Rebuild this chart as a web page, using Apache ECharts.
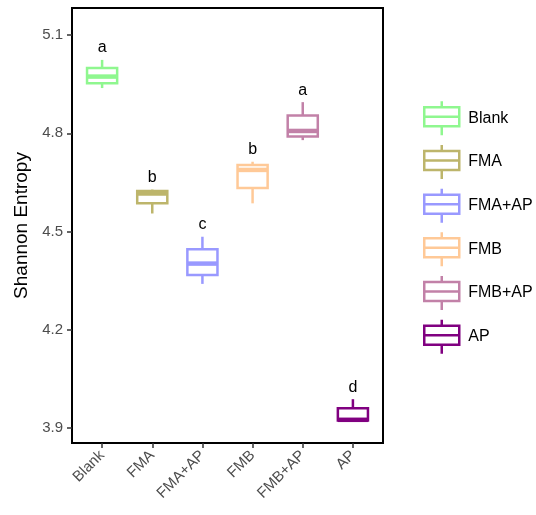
<!DOCTYPE html>
<html><head><meta charset="utf-8">
<script src="https://cdn.jsdelivr.net/npm/echarts@6/dist/echarts.min.js"></script>
<style>html,body{margin:0;padding:0;background:#fff}#c{width:536px;height:515px}</style>
</head><body><div id="c"></div>
<script>
const categories = ['Blank', 'FMA', 'FMA+AP', 'FMB', 'FMB+AP', 'AP'];
const lowWhisker  = [4.938, 4.555, 4.340, 4.586, 4.779, 3.919];
const q1Values    = [4.953, 4.586, 4.367, 4.633, 4.790, 3.923];
const medians     = [4.973, 4.616, 4.402, 4.688, 4.807, 3.925];
const q3Values    = [4.999, 4.624, 4.446, 4.703, 4.854, 3.960];
const highWhisker = [5.024, 4.628, 4.484, 4.713, 4.895, 3.988];
const letters     = ['a', 'b', 'c', 'b', 'a', 'd'];
const yTicks = [3.9, 4.2, 4.5, 4.8, 5.1];
const xTicks = [1, 2, 3, 4, 5, 6];
const colors = ['#8FF78F', '#BDB56B', '#9999FF', '#FFC997', '#C281A8', '#800080'];

const FONT = '"Liberation Sans", Arial, Helvetica, sans-serif';
const iconPath = 'path://M17.5,0L17.5,6M0,6L35,6L35,25L0,25ZM0,15.5L35,15.5M17.5,25L17.5,34';

function makeRender(letter) {
  return function (params, api) {
    const x = api.value(0);
    const pLow = api.coord([x, api.value(1)]);
    const pQ1 = api.coord([x, api.value(2)]);
    const pMed = api.coord([x, api.value(3)]);
    const pQ3 = api.coord([x, api.value(4)]);
    const pHigh = api.coord([x, api.value(5)]);
    const halfW = api.size([0.6, 0])[0] / 2;
    const cx = pMed[0];
    const color = api.visual('color');
    return {
      type: 'group',
      children: [
        { type: 'line', shape: { x1: cx, y1: pHigh[1], x2: cx, y2: pQ3[1] }, style: { stroke: color, lineWidth: 2.5 } },
        { type: 'line', shape: { x1: cx, y1: pQ1[1], x2: cx, y2: pLow[1] }, style: { stroke: color, lineWidth: 2.5 } },
        { type: 'rect', shape: { x: cx - halfW, y: pQ3[1], width: 2 * halfW, height: pQ1[1] - pQ3[1] }, style: { fill: '#fff', stroke: color, lineWidth: 2.5 } },
        { type: 'line', shape: { x1: cx - halfW, y1: pMed[1], x2: cx + halfW, y2: pMed[1] }, style: { stroke: color, lineWidth: 4.5 } },
        { type: 'text', x: cx, y: pHigh[1] - 12, style: { text: letter, fill: '#000', font: '16px ' + FONT, align: 'center', verticalAlign: 'middle' } }
      ]
    };
  };
}

const series = categories.map((name, i) => ({
  name: name,
  type: 'custom',
  itemStyle: { color: colors[i], borderColor: colors[i] },
  renderItem: makeRender(letters[i]),
  encode: { x: 0, y: [1, 2, 3, 4, 5] },
  data: [[xTicks[i], lowWhisker[i], q1Values[i], medians[i], q3Values[i], highWhisker[i]]],
  animation: false
}));

const chart = echarts.init(document.getElementById('c'), null, { renderer: 'canvas' });
chart.setOption({
  animation: false,
  backgroundColor: '#fff',
  grid: { left: 72, top: 8, right: 153, bottom: 72, show: true, borderColor: '#000', borderWidth: 2, backgroundColor: 'transparent' },
  xAxis: {
    type: 'value', min: 0.4, max: 6.6,
    splitLine: { show: false },
    axisLine: { show: false },
    axisTick: { show: true, length: 5, lineStyle: { color: '#333', width: 1.5 }, customValues: xTicks },
    axisLabel: {
      customValues: xTicks, rotate: 45, margin: 10,
      formatter: v => categories[Math.round(v) - 1],
      color: '#4D4D4D', fontSize: 15, fontFamily: FONT
    }
  },
  yAxis: {
    type: 'value', min: 3.9 - 15 / 327.5, max: 5.1 + 27 / 327.5,
    name: 'Shannon Entropy', nameLocation: 'middle', nameGap: 36,
    nameTextStyle: { fontSize: 19, color: '#000', fontFamily: FONT },
    splitLine: { show: false },
    axisLine: { show: false },
    axisTick: { show: true, length: 5, lineStyle: { color: '#333', width: 1.5 }, customValues: yTicks },
    axisLabel: { customValues: yTicks, margin: 9, formatter: v => v.toFixed(1), color: '#4D4D4D', fontSize: 15, fontFamily: FONT }
  },
  legend: {
    orient: 'vertical', left: 418, top: 95,
    itemWidth: 35, itemHeight: 34, itemGap: 7.2,
    selectedMode: false,
    textStyle: { fontSize: 16, color: '#000', fontFamily: FONT, padding: [0, 0, 0, 4] },
    data: categories.map((c, i) => ({
      name: c, icon: iconPath,
      itemStyle: { color: 'rgba(0,0,0,0)', borderColor: colors[i], borderWidth: 2.5 }
    }))
  },
  series: series
});
</script>
</body></html>
